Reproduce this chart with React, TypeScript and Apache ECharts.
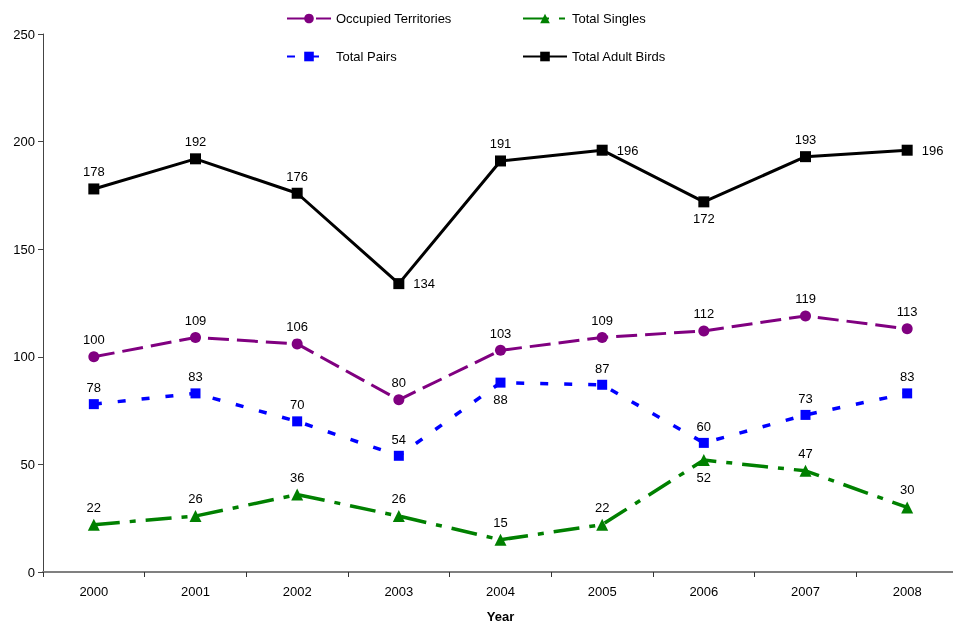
import React, { useEffect, useRef } from "react";
import * as echarts from "echarts";

const years = ["2000", "2001", "2002", "2003", "2004", "2005", "2006", "2007", "2008"];
const occupiedTerritories = [100, 109, 106, 80, 103, 109, 112, 119, 113];
const totalPairs = [78, 83, 70, 54, 88, 87, 60, 73, 83];
const totalSingles = [22, 26, 36, 26, 15, 22, 52, 47, 30];
const totalAdultBirds = [178, 192, 176, 134, 191, 196, 172, 193, 196];
const yTicks = [0, 50, 100, 150, 200, 250];

const occPos = ["top", "top", "top", "top", "top", "top", "top", "top", "top"];
const pairsPos = ["top", "top", "top", "top", "bottom", "top", "top", "top", "top"];
const singlesPos = ["top", "top", "top", "top", "top", "top", "bottom", "top", "top"];
const adultPos = ["top", "top", "top", "right", "top", "right", "bottom", "top", "right"];

const FONT = "'Liberation Sans', Arial, sans-serif";

function withLabels(values: number[], pos: string[]) {
  return values.map((v, i) => ({
    value: v,
    label: { position: pos[i], distance: pos[i] === "right" ? 9 : 5 },
  }));
}

export default function App() {
  const ref = useRef<HTMLDivElement>(null);
  useEffect(() => {
    document.body.style.margin = "0";
    document.body.style.overflow = "hidden";
    const chart = echarts.init(ref.current!, null, { renderer: "svg" });
    const label = { show: true, color: "#000", fontSize: 13, fontFamily: FONT };
    const legendBase = {
      orient: "horizontal",
      itemWidth: 44,
      itemHeight: 12,
      itemGap: 5,
      textStyle: { color: "#000", fontSize: 13, fontFamily: FONT },
      selectedMode: false,
    };
    chart.setOption({
      animation: false,
      textStyle: { fontFamily: FONT },
      legend: [
        { ...legendBase, data: ["Occupied Territories"], left: 281, top: 7 },
        { ...legendBase, data: ["Total Singles"], left: 517, top: 7 },
        { ...legendBase, data: ["Total Pairs"], left: 281, top: 45 },
        { ...legendBase, data: ["Total Adult Birds"], left: 517, top: 45 },
      ],
      grid: { left: 43, right: -5, top: 34, bottom: 52, containLabel: false, outerBoundsMode: "none" },
      xAxis: {
        type: "category",
        data: years,
        boundaryGap: true,
        name: "Year",
        nameLocation: "middle",
        nameGap: 38,
        nameTextStyle: { fontWeight: "bold", fontSize: 13, color: "#000", fontFamily: FONT },
        axisLine: { lineStyle: { color: "#808080", width: 2 } },
        axisTick: { show: true, interval: 0, length: 5, lineStyle: { color: "#333", width: 1 } },
        axisLabel: { color: "#000", fontSize: 13, margin: 13, fontFamily: FONT },
      },
      yAxis: {
        type: "value",
        min: yTicks[0],
        max: yTicks[yTicks.length - 1],
        interval: 50,
        splitLine: { show: false },
        axisLine: { show: true, lineStyle: { color: "#444", width: 1 } },
        axisTick: { show: true, length: 5, lineStyle: { color: "#444" } },
        axisLabel: { color: "#000", fontSize: 13, margin: 8, fontFamily: FONT },
      },
      series: [
        {
          name: "Occupied Territories",
          type: "line",
          data: withLabels(occupiedTerritories, occPos),
          symbol: "circle",
          symbolSize: 11,
          itemStyle: { color: "#800080" },
          lineStyle: { color: "#800080", width: 3, type: [21, 8] },
          label,
          z: 3,
        },
        {
          name: "Total Singles",
          type: "line",
          data: withLabels(totalSingles, singlesPos),
          symbol: "triangle",
          symbolSize: 12,
          itemStyle: { color: "#008000" },
          lineStyle: { color: "#008000", width: 3.5, type: [26, 10, 6, 10] },
          label,
          z: 3,
        },
        {
          name: "Total Pairs",
          type: "line",
          data: withLabels(totalPairs, pairsPos),
          symbol: "rect",
          symbolSize: 10,
          itemStyle: { color: "#0000FF" },
          lineStyle: { color: "#0000FF", width: 3.5, type: [8, 16] },
          label,
          z: 3,
        },
        {
          name: "Total Adult Birds",
          type: "line",
          data: withLabels(totalAdultBirds, adultPos),
          symbol: "rect",
          symbolSize: 11,
          itemStyle: { color: "#000" },
          lineStyle: { color: "#000", width: 3, type: "solid" },
          label,
          z: 3,
        },
      ],
    });
    const onResize = () => chart.resize();
    window.addEventListener("resize", onResize);
    return () => {
      window.removeEventListener("resize", onResize);
      chart.dispose();
    };
  }, []);
  return (
    <div
      ref={ref}
      style={{ position: "fixed", left: 0, top: 0, width: "100vw", height: "100vh", overflow: "hidden" }}
    />
  );
}
